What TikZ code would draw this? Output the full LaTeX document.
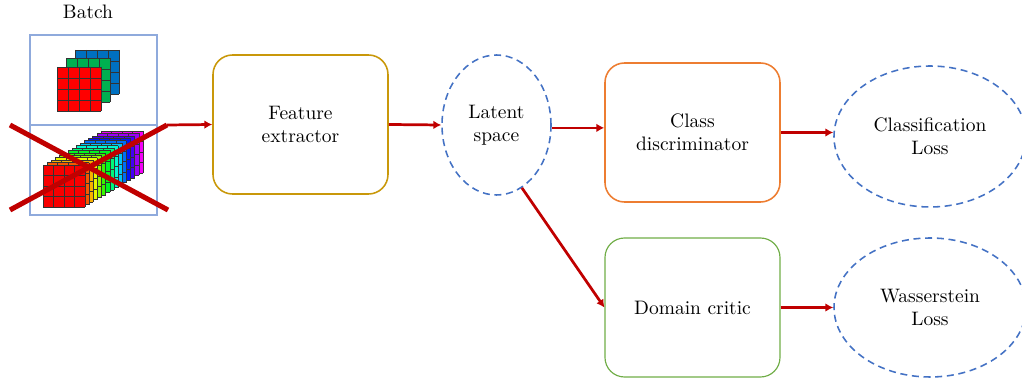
\documentclass[tikz,border=0pt]{standalone}
\usetikzlibrary{arrows.meta,shapes.geometric,calc}
\definecolor{arrred}{RGB}{192,0,0}
\definecolor{lossblue}{RGB}{68,114,196}
\definecolor{boxblue}{RGB}{143,170,220}
\definecolor{goldc}{RGB}{201,152,10}
\definecolor{orangec}{RGB}{237,125,49}
\definecolor{greenc}{RGB}{112,173,71}
\definecolor{cubeblue}{RGB}{0,112,192}
\definecolor{cubegreen}{RGB}{0,176,80}
\definecolor{cubered}{RGB}{255,0,0}
\def\pxu{0.513pt}
\tikzset{
 modbox/.style={draw, rounded corners=10pt, line width=0.8pt, minimum width=175*\pxu, minimum height=139*\pxu, align=center, inner sep=0pt},
 lossell/.style={ellipse, draw=lossblue, dash pattern=on 3.6pt off 2.4pt, line width=0.8pt, align=center, inner sep=0pt},
 flow/.style={draw=arrred, line width=1.4pt, -{Latex[length=4pt,width=4.4pt]}},
 cross/.style={draw=arrred, line width=2.6pt},
 cell/.style={draw=black!80, line width=0.35pt},
}
\newcommand{\cubelayer}[4]{%
  \fill[#4] (#1,#2) rectangle ++(#3,#3);
  \foreach \k in {0,1,2,3,4}{
    \draw[cell] ({#1+\k*#3/4},#2) -- ++(0,#3);
    \draw[cell] (#1,{#2+\k*#3/4}) -- ++(#3,0);
  }
}
\begin{document}
\begin{tikzpicture}[x=0.513pt,y=-0.513pt]
\useasboundingbox (0,0) rectangle (1022,381);
% batch
\node[draw=boxblue, line width=0.6pt, minimum width=127*\pxu, minimum height=180*\pxu, inner sep=0pt] (batch) at (93.5,125) {};
\node (batchlbl) at (88,12) {Batch};
\draw[boxblue, line width=0.6pt] (batch.west) -- (batch.east);
% top stack
\cubelayer{75}{50}{44}{cubeblue}
\cubelayer{66}{58.5}{44}{cubegreen}
\cubelayer{57}{67}{44}{cubered}
% rainbow stack
\foreach \i in {14,13,...,0}{
  \pgfmathsetmacro\hue{\i/14*0.83}
  \pgfmathsetmacro\lx{43+\i*58/14}
  \pgfmathsetmacro\ly{165-\i*34/14}
  \definecolor{rb}{hsb}{\hue,1,0.97}
  \cubelayer{\lx}{\ly}{42}{rb}
}
% cross
\coordinate (xa) at (10,125);
\coordinate (xb) at (168,210);
\coordinate (xc) at (10,210);
\coordinate (xd) at (167,125);
\draw[cross] (xa) -- (xb);
\draw[cross] (xc) -- (xd);
% modules
\node[modbox, draw=goldc] (fe) at (300.5,124.5) {Feature\\extractor};
\node[lossell, minimum width=109*\pxu, minimum height=140*\pxu] (latent) at (496.5,125) {Latent\\space};
\node[modbox, draw=orangec] (cls) at (692.5,132.5) {Class\\discriminator};
\node[lossell, minimum width=192*\pxu, minimum height=141*\pxu] (closs) at (930,136.5) {Classification\\Loss};
\node[modbox, draw=greenc, line width=0.6pt] (dom) at (692.5,307.5) {Domain critic};
\node[lossell, minimum width=192*\pxu, minimum height=139*\pxu] (wloss) at (930,307.5) {Wasserstein\\Loss};
% arrows
\draw[flow] (xd) -- (fe.west);
\draw[flow] (fe.east) -- (latent.west);
\draw[flow] (latent.-3) -- (latent.-3 -| cls.west);
\draw[flow] (cls.east) -- (cls.east -| closs.west);
\draw[flow] (latent.-68) -- (dom.west);
\draw[flow] (dom.east) -- (wloss.west);
\end{tikzpicture}
\end{document}
